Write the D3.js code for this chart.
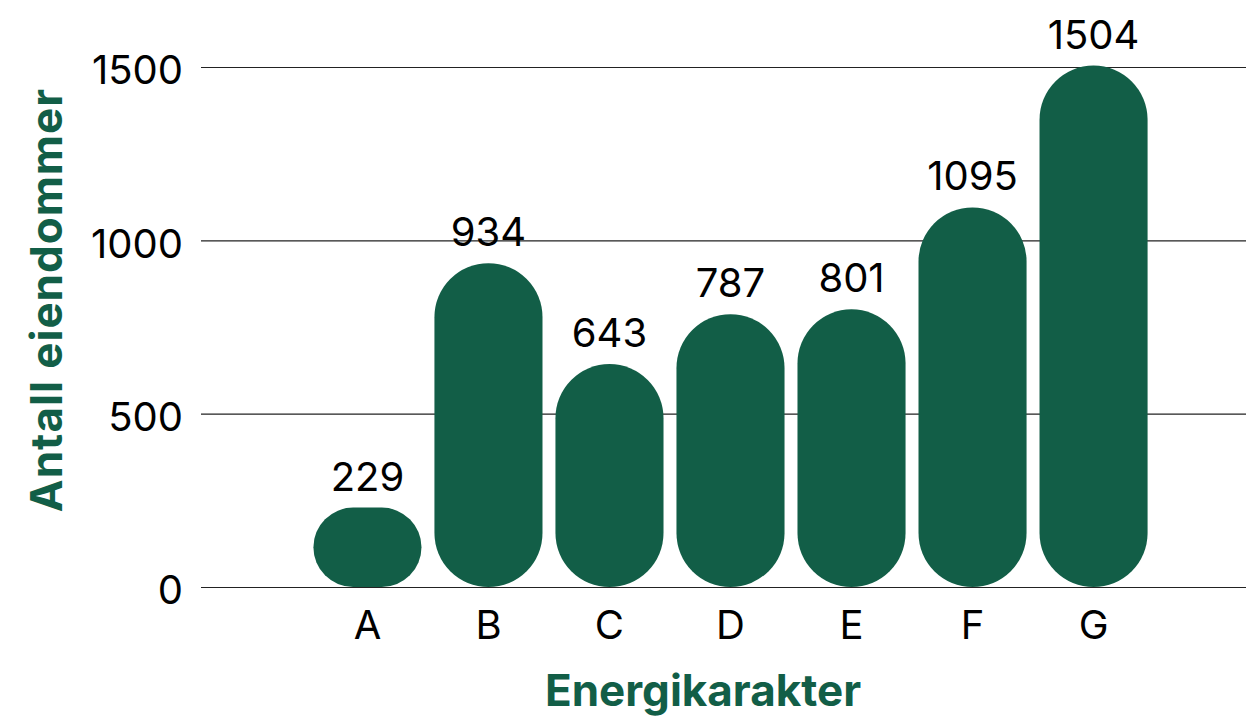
<!DOCTYPE html>
<meta charset="utf-8">
<html>
<head>
<title>Energikarakter</title>
<style>
    body {
        margin: 0;
        background: #fff;
        font-family: Inter, "Open Sans", sans-serif;
    }
</style>
<script src="https://d3js.org/d3.v7.min.js"></script>
</head>
<body>
<div id="chart"></div>

<script>

// data
var categories = ["A", "B", "C", "D", "E", "F", "G"];
var values = [229, 934, 643, 787, 801, 1095, 1504];
var yTicks = [0, 500, 1000, 1500];

var green = "#125e47";

// dimensions
var width = 1246,
    height = 718;

var svg = d3.select("#chart")
  .append("svg")
    .attr("width", width)
    .attr("height", height);

// scales
var x = d3.scaleBand()
    .domain(categories)
    .range([307, 1154])
    .paddingInner(0.107)
    .paddingOuter(0.053);

var y = d3.scaleLinear()
    .domain([0, 1500])
    .range([587, 67]);

// grid lines + y labels
var yAxis = svg.append("g")
    .attr("transform", "translate(201,0)")
    .call(d3.axisLeft(y).tickValues(yTicks).tickFormat(d3.format("d")).tickSize(0).tickPadding(18));

yAxis.select(".domain").remove();
yAxis.selectAll(".tick line")
    .attr("x2", width - 201)
    .attr("stroke", "#222")
    .attr("stroke-width", 1.2);
yAxis.selectAll(".tick text")
    .attr("font-family", "Inter, sans-serif")
    .attr("font-size", 40)
    .attr("fill", "#000")
    .attr("dy", "0.42em");

// bars, pill shaped
svg.append("g")
  .selectAll("rect")
  .data(values)
  .enter().append("rect")
    .attr("x", function(d, i) { return x(categories[i]); })
    .attr("y", function(d) { return y(d); })
    .attr("width", x.bandwidth())
    .attr("height", function(d) { return y(0) - y(d); })
    .attr("rx", function(d) { return Math.min(x.bandwidth(), y(0) - y(d)) / 2; })
    .attr("fill", green);

// value labels
svg.append("g")
  .selectAll("text")
  .data(values)
  .enter().append("text")
    .attr("x", function(d, i) { return x(categories[i]) + x.bandwidth() / 2; })
    .attr("y", function(d) { return y(d) - 17; })
    .attr("text-anchor", "middle")
    .attr("font-size", 40)
    .attr("fill", "#000")
    .text(function(d) { return d; });

// x axis
var xAxis = svg.append("g")
    .attr("transform", "translate(0," + y(0) + ")")
    .call(d3.axisBottom(x).tickSize(0).tickPadding(24));

xAxis.select(".domain").remove();
xAxis.selectAll(".tick text")
    .attr("font-family", "Inter, sans-serif")
    .attr("font-size", 40)
    .attr("fill", "#000");

// axis titles
svg.append("text")
    .attr("x", 703)
    .attr("y", 706)
    .attr("text-anchor", "middle")
    .attr("font-size", 44)
    .attr("font-weight", "bold")
    .attr("fill", green)
    .text("Energikarakter");

svg.append("text")
    .attr("transform", "translate(62,300) rotate(-90)")
    .attr("text-anchor", "middle")
    .attr("font-size", 44)
    .attr("font-weight", "bold")
    .attr("letter-spacing", 1)
    .attr("fill", green)
    .text("Antall eiendommer");

</script>
</body>
</html>
